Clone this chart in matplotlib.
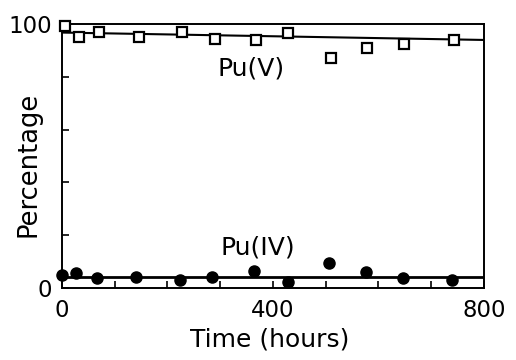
import numpy as np
import matplotlib.pyplot as plt

# Pu(V) fraction (open squares)
t_v = [5, 32, 70, 147, 227, 290, 368, 428, 510, 579, 648, 743]
pu_v = [99.2, 95, 97, 95, 97, 94.3, 94, 96.6, 87, 91, 92.4, 94]

# Pu(IV) fraction (filled circles)
t_iv = [0, 27, 66, 141, 223, 285, 364, 428, 507, 577, 647, 739]
pu_iv = [4.9, 5.7, 3.8, 4.2, 3.0, 4.2, 6.5, 2.3, 9.5, 6.0, 3.9, 3.0]

# fitted trend lines
fit_t = [0, 800]
fit_v = [96.8, 94.0]
fit_iv = [4.2, 4.2]

plt.rcParams['font.family'] = 'DejaVu Sans'

fig = plt.figure(figsize=(5.16, 3.6), dpi=100)
ax = fig.add_axes([0.120, 0.200, 0.818, 0.733])

ax.plot(fit_t, fit_v, color='black', lw=1.5)
ax.plot(fit_t, fit_iv, color='black', lw=2.0)
ax.plot(t_v, pu_v, 's', ms=7, mfc='white', mec='black', mew=1.6, ls='none',
        clip_on=False, zorder=3)
ax.plot(t_iv, pu_iv, 'o', ms=8, color='black', ls='none', clip_on=False, zorder=3)

ax.text(358, 83, 'Pu(V)', fontsize=18, ha='center', va='center')
ax.text(372, 15.5, 'Pu(IV)', fontsize=18, ha='center', va='center')

ax.set_xlim(0, 800)
ax.set_ylim(0, 100)
ax.set_xticks(np.arange(0, 801, 100))
ax.set_xticklabels(['0', '', '', '', '400', '', '', '', '800'])
ax.set_yticks(np.arange(0, 101, 20))
ax.set_yticklabels(['0', '', '', '', '', '100'])
ax.tick_params(direction='in', length=5, width=1.2, labelsize=16.5)
ax.tick_params(axis='x', pad=8)
ax.tick_params(axis='y', pad=7)

for s in ax.spines.values():
    s.set_linewidth(1.4)

ax.set_xlabel('Time (hours)', fontsize=18, va='center')
ax.set_ylabel('Percentage', fontsize=18.5, va='center')
ax.xaxis.set_label_coords(0.493, -0.197)
ax.yaxis.set_label_coords(-0.078, 0.47)

fig.savefig('out.png', dpi=100)
